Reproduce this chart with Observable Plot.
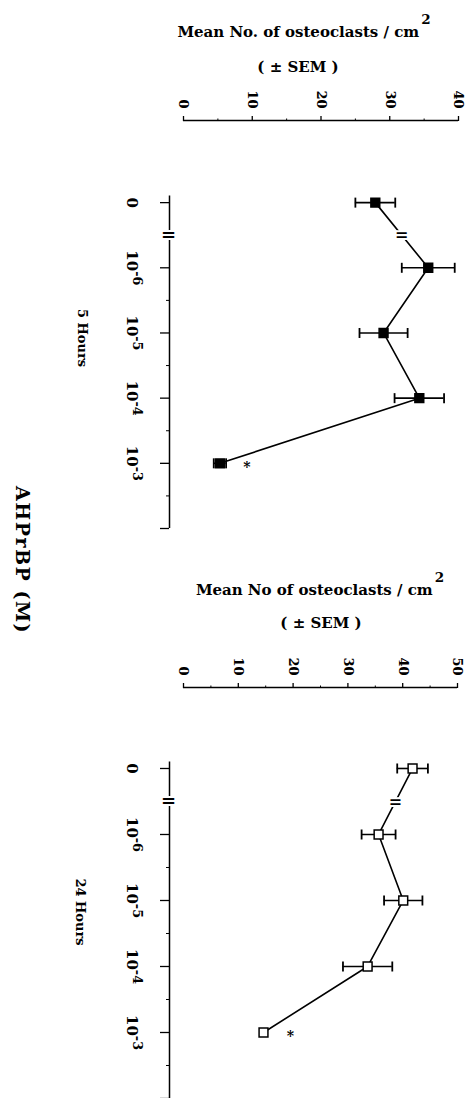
<!DOCTYPE html>
<html><head><meta charset="utf-8">
<script src="https://cdn.jsdelivr.net/npm/d3@7"></script>
<script src="https://cdn.jsdelivr.net/npm/@observablehq/plot@0.6"></script>
<style>
html,body{margin:0;padding:0;background:#fff;overflow:hidden}
#wrap{position:relative;width:465px;height:1098px;font-family:"DejaVu Serif",serif;font-weight:bold;color:#000}
.lbl{position:absolute;white-space:nowrap;line-height:1}
.h{transform:translateX(-50%)}
.v{transform:translate(-50%,-50%) rotate(90deg)}
sup{font-size:0.9em;vertical-align:0;position:relative;top:-0.95em;margin-left:2px}
.panel{position:absolute;left:0}
</style></head><body><div id="wrap"></div>
<script>
// ---- data ----
const concLabels = ["0", "10^-6", "10^-5", "10^-4", "10^-3"];
const meanTicks5h = [0, 10, 20, 30, 40];
const meanTicks24h = [0, 10, 20, 30, 40, 50];
const mean5h = [27.9, 35.6, 29.1, 34.3, 5.3];
const sem5h = [2.9, 3.85, 3.5, 3.6, 0.9];
const mean24h = [41.8, 35.6, 40.1, 33.6, 14.6];
const sem24h = [2.8, 3.1, 3.5, 4.5, 0];
const signif = [false, false, false, false, true];
const title5h = "Mean No. of osteoclasts / cm";
const title24h = "Mean No of osteoclasts / cm";
const semLabel = "( \u00b1 SEM )";
const panelLabels = ["5 Hours", "24 Hours"];
const xAxisTitle = "AHPrBP (M)";

const vbar = {draw(ctx, size){const r = Math.sqrt(size / Math.PI); ctx.moveTo(0, -r); ctx.lineTo(0, r);}};

function panel(means, sems, ticks, filled, cfg) {
  const rows = concLabels.map((c, i) => ({i, c, mean: means[i], lo: means[i] - sems[i], hi: means[i] + sems[i], sem: sems[i], sig: signif[i]}));
  const step = ticks[1] - ticks[0];
  const minor = ticks.slice(0, -1).map(t => t + step / 2);
  const n = concLabels.length;
  const catTicks = d3.range(n + 1);
  const catMinor = d3.range(1.5, n, 1);
  const brk = [{x: (means[0] + means[1]) / 2, y: (rows[0].i + rows[1].i) / 2}];
  const bars = rows.filter(d => d.sem > 0);
  const xmax = ticks[ticks.length - 1];
  const svg = Plot.plot({
    width: 465, height: 549,
    marginTop: cfg.top, marginBottom: cfg.bottom, marginLeft: 183, marginRight: cfg.right,
    x: {domain: [0, xmax]},
    y: {domain: [cfg.y0, n], reverse: true},
    style: {fontFamily: '"DejaVu Serif", serif', fontWeight: "bold", background: "transparent", color: "#000", overflow: "visible"},
    marks: [
      Plot.ruleY([cfg.y0], {strokeWidth: 1.5}),
      Plot.axisX({anchor: "top", ticks, tickSize: 5, tickRotate: 90, tickPadding: 7, fontSize: 13, label: null, strokeWidth: 1.3}),
      Plot.axisX({anchor: "top", ticks: minor, tickSize: 2.5, tickFormat: () => "", label: null}),
      Plot.ruleX([0], {y1: -0.1, y2: n, dx: -14, strokeWidth: 1.5}),
      Plot.axisY({anchor: "left", ticks: catTicks, tickSize: 9, tickRotate: 90, tickPadding: 23, dx: -14, fontSize: 15, label: null, tickFormat: i => concLabels[i] ?? "", strokeWidth: 1.3}),
      Plot.axisY({anchor: "left", ticks: catMinor, tickSize: 3, dx: -14, tickFormat: () => "", label: null}),
      Plot.text(brk, {x: 0, y: "y", text: () => "=", dx: -15, fontSize: 18, stroke: "white", strokeWidth: 4, fill: "black", paintOrder: "stroke"}),
      Plot.line(rows, {x: "mean", y: "i", strokeWidth: 1.6}),
      Plot.text(brk, {x: "x", y: "y", text: () => "=", fontSize: 16, stroke: "white", strokeWidth: 4, fill: "black", paintOrder: "stroke"}),
      Plot.ruleY(bars, {y: "i", x1: "lo", x2: "hi", strokeWidth: 1.6}),
      Plot.dot(bars, {x: "lo", y: "i", symbol: vbar, r: 5, stroke: "black", strokeWidth: 1.8}),
      Plot.dot(bars, {x: "hi", y: "i", symbol: vbar, r: 5, stroke: "black", strokeWidth: 1.8}),
      Plot.dot(rows, {x: "mean", y: "i", symbol: "square", r: 5, fill: filled ? "black" : "white", stroke: "black", strokeWidth: 1.5}),
      Plot.text(rows.filter(d => d.sig), {x: "mean", y: "i", text: () => "*", dx: 27, dy: 4, fontSize: 14})
    ]
  });
  d3.select(svg).selectAll("text").each(function() {
    const s = this.textContent;
    if (s.includes("^")) {
      const [b, e] = s.split("^");
      const t = d3.select(this);
      t.text(b);
      t.append("tspan").attr("dy", "-0.5em").attr("font-size", "0.85em").text(e);
    }
  });
  svg.classList.add("panel");
  svg.style.top = cfg.offset + "px";
  return svg;
}

const wrap = document.getElementById("wrap");
wrap.appendChild(panel(mean5h, sem5h, meanTicks5h, true, {top: 120, bottom: 21, right: 7, y0: -1.26, offset: 0}));
wrap.appendChild(panel(mean24h, sem24h, meanTicks24h, false, {top: 138, bottom: 0, right: 8, y0: -1.227, offset: 549}));

function label(text, cls, x, y, size, sup, spacing) {
  const d = document.createElement("div");
  d.className = "lbl " + cls;
  d.style.left = x + "px";
  d.style.top = y + "px";
  d.style.fontSize = size + "px";
  if (spacing) d.style.letterSpacing = spacing + "px";
  d.textContent = text;
  if (sup) { const s = document.createElement("sup"); s.textContent = sup; d.appendChild(s); }
  wrap.appendChild(d);
}
label(title5h, "h", 304, 25, 15, "2");
label(semLabel, "h", 298, 60, 15);
label(title24h, "h", 320, 583, 15, "2");
label(semLabel, "h", 321, 616, 15);
label(panelLabels[0], "v", 82, 338, 13);
label(panelLabels[1], "v", 80, 912, 13);
label(xAxisTitle, "v", 22, 560, 19, null, 1.5);
</script></body></html>
